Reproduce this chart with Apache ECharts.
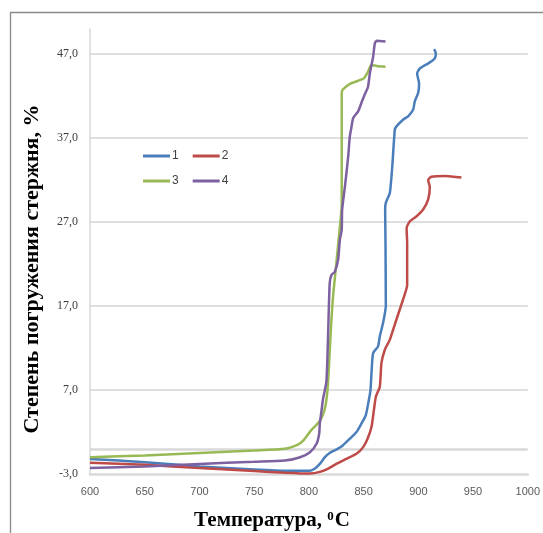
<!DOCTYPE html>
<html>
<head>
<meta charset="utf-8">
<script src="https://cdn.jsdelivr.net/npm/echarts@6/dist/echarts.min.js"></script>
<style>
html,body{margin:0;padding:0;background:#fff;}
#chart{width:543px;height:533px;}
</style>
</head>
<body>
<div id="chart"></div>
<script>
// Series names
const seriesNames = ['1', '2', '3', '4'];
const seriesColors = ['#4A7EBB', '#BE4B48', '#98B954', '#7D60A0'];

// Series 1 (blue)
const temp1 = [600,650,700,750,780,801,805.5,810,814.6,819,825,831,837.4,843.5,848,852,854.2,856.3,857.2,858.7,863.2,864.8,867.8,870.3,870,869.7,870.3,874,876.4,878.5,880,886,890.7,895.3,896.8,899.9,900.7,898.9,901.4,909,915,916,914.5];
const deg1  = [-1.2,-1.6,-2.1,-2.45,-2.6,-2.6,-2.35,-1.8,-1.0,-0.5,-0.1,0.4,1.2,2.0,3.0,4.0,5.4,7.0,9.0,11.4,12.2,13.4,15.0,17.0,24.5,28.5,29.3,30.5,34.0,38.0,38.4,39.2,39.6,40.4,41.4,42.4,43.5,44.7,45.3,45.9,46.5,47.1,47.6];

// Series 2 (red)
const temp2 = [600,650,700,750,778,801,810,817.7,825,834.2,843.5,849.6,853.6,857.2,859.4,861.2,864.8,866.3,869.4,874,880,886.1,889.8,889.8,889.3,892.3,898.4,904.4,909,910.5,909,912,925,939.4];
const deg2  = [-1.65,-1.9,-2.3,-2.65,-2.85,-2.95,-2.75,-2.35,-1.8,-1.2,-0.6,0.2,1.2,2.6,4.6,6.2,7.4,10.2,11.8,13.0,15.4,17.8,19.5,24.5,26.3,27.1,27.7,28.5,29.7,31.2,32.0,32.4,32.5,32.3];

// Series 3 (green)
const temp3 = [600,650,700,750,778,790,795,802,808,812,815,817,818,820,822,825,828,830,830,830,830,831,838,850,854,857,862,870];
const deg3  = [-1.0,-0.8,-0.5,-0.2,0.0,0.5,1.0,2.2,3.0,3.8,5.0,7.0,9.0,14.0,18.0,22.0,26.0,29.0,35.0,41.0,42.3,42.8,43.5,44.1,44.9,45.7,45.6,45.5];

// Series 4 (purple)
const temp4 = [600,650,700,750,778,792,801,807,809.4,810,811.6,813,816,817.6,819,820.6,823.7,826.7,828.3,830,830.4,832.9,835.9,837.4,839,840.5,845,848,851,854,855.7,858.7,860.3,862,870];
const deg4  = [-2.3,-2.1,-1.8,-1.55,-1.4,-1.0,-0.4,0.6,1.8,3.0,4.6,6.0,8.0,13.8,19.7,20.7,21.1,22.5,24.9,26.1,28.5,31.2,34.8,37.2,38.4,39.4,40.2,41.2,42.2,43.1,44.7,46.7,48.3,48.6,48.5];

// Axis settings
const xMin = 600, xMax = 1000, xStep = 50;
const yMin = -3, yMax = 50, yStep = 10;
const xTitle = 'Температура, ';
const yTitle = 'Степень погружения стержня, %';

const temps = [temp1, temp2, temp3, temp4];
const degs = [deg1, deg2, deg3, deg4];

const chart = echarts.init(document.getElementById('chart'), null, {renderer: 'canvas'});

const series = seriesNames.map((name, i) => ({
  name: name,
  type: 'line',
  data: temps[i].map((t, j) => [t, degs[i][j]]),
  showSymbol: false,
  symbol: 'none',
  smooth: 0.2,
  lineStyle: {width: 2.5, color: seriesColors[i]},
  itemStyle: {color: seriesColors[i]},
  z: 3 + i,
  markLine: i === 0 ? {
    silent: true,
    symbol: 'none',
    label: {show: false},
    lineStyle: {color: '#d9d9d9', width: 2.5, type: 'solid'},
    data: [{yAxis: 0}],
    z: 1
  } : undefined
}));

const legendCommon = {
  orient: 'horizontal',
  icon: 'rect',
  itemWidth: 27,
  itemHeight: 3,
  itemGap: 14,
  padding: 0,
  textStyle: {fontFamily: 'Liberation Sans', fontSize: 12, color: '#404040', padding: [0, 0, 0, -3]},
  selectedMode: false
};

chart.setOption({
  animation: false,
  backgroundColor: '#ffffff',
  grid: {left: 90, right: 15, top: 29, bottom: 59, containLabel: false},
  legend: [
    Object.assign({data: ['1', '2'], left: 143, top: 150}, legendCommon),
    Object.assign({data: ['3', '4'], left: 143, top: 175}, legendCommon)
  ],
  xAxis: {
    type: 'value',
    min: xMin, max: xMax, interval: xStep,
    axisLine: {show: true, onZero: false, lineStyle: {color: '#d9d9d9', width: 2.5}},
    axisTick: {show: false},
    splitLine: {show: false},
    axisLabel: {margin: 12, fontFamily: 'Liberation Sans', fontSize: 11, color: '#595959', formatter: v => String(v)}
  },
  yAxis: {
    type: 'value',
    min: yMin, max: yMax, interval: yStep,
    axisLine: {show: true, lineStyle: {color: '#d9d9d9', width: 1.5}},
    axisTick: {show: false},
    splitLine: {show: true, showMinLine: false, showMaxLine: false, lineStyle: {color: '#d4d4d4', width: 1.5}},
    axisLabel: {
      margin: 12, fontFamily: 'Liberation Serif', fontSize: 12, color: '#404040',
      showMaxLabel: false,
      formatter: v => (v === yMax ? '' : v.toFixed(1).replace('.', ','))
    }
  },
  graphic: [
    {
      type: 'rect', silent: true, z: 0,
      shape: {x: 10.5, y: 12.5, width: 560, height: 560},
      style: {fill: 'none', stroke: '#8a8a8a', lineWidth: 1.3}
    },
    {
      type: 'text', silent: true,
      x: 32, y: 269, rotation: Math.PI / 2,
      style: {
        text: yTitle,
        font: 'bold 22px "Liberation Serif"',
        fill: '#000',
        align: 'center', verticalAlign: 'middle'
      }
    },
    {
      type: 'text', silent: true,
      x: 272, y: 521,
      style: {
        text: '{a|' + xTitle + '}{s|0}{a|C}',
        align: 'center', verticalAlign: 'middle',
        rich: {
          a: {font: 'bold 21px "Liberation Serif"', fill: '#000', fontSize: 21, fontWeight: 'bold', fontFamily: 'Liberation Serif', verticalAlign: 'bottom'},
          s: {font: 'bold 13px "Liberation Serif"', fill: '#000', fontSize: 13, fontWeight: 'bold', fontFamily: 'Liberation Serif', verticalAlign: 'top', padding: [0, 1, 6, 0]}
        }
      }
    }
  ],
  series: series
});
</script>
</body>
</html>
